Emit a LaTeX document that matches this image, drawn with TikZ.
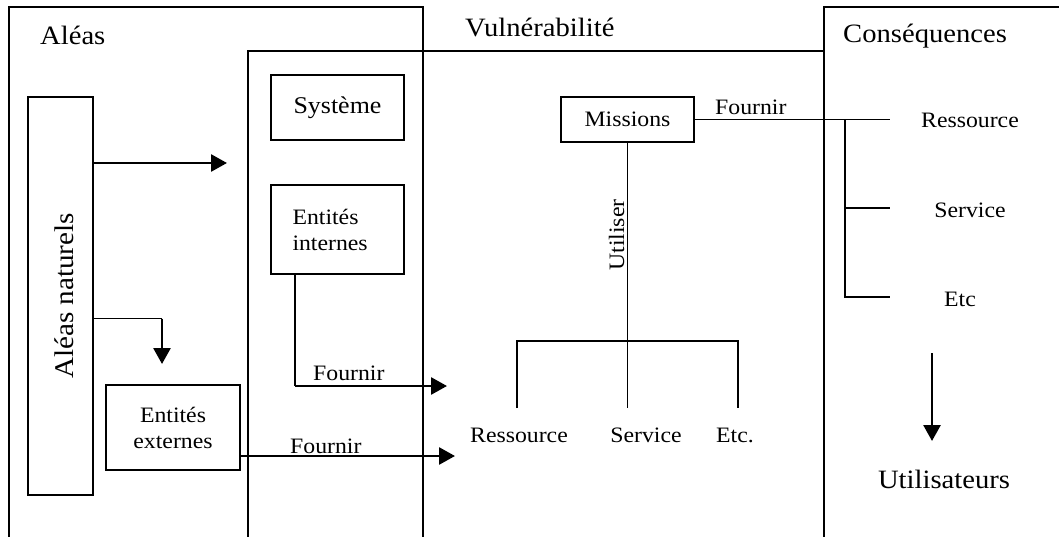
\documentclass[tikz,border=0pt]{standalone}
\usepackage{fontspec}
\setmainfont{Liberation Serif}[FakeStretch=1.08]
\usetikzlibrary{arrows.meta}
\begin{document}
\begin{tikzpicture}[x=1pt,y=-1pt,
  frame/.style={line width=1.4pt},
  box/.style={draw,line width=1.4pt,inner sep=0pt},
  ln/.style={line width=1.3pt},
  heavy/.style={line width=2.7pt},
  arr/.style={-{Triangle[length=16pt,width=17pt]}},
  big/.style={font=\fontsize{26.5}{30}\selectfont,inner sep=0pt},
  small/.style={font=\fontsize{22}{26}\selectfont,inner sep=0pt},
  mid/.style={font=\fontsize{24}{28}\selectfont,inner sep=0pt},
]
\useasboundingbox (0,0) rectangle (1059,537);
% frames
\draw[frame] (9,537) -- (9,7) -- (423,7) -- (423,537);
\draw[frame] (248,537) -- (248,51) -- (824,51);
\draw[frame] (824,537) -- (824,7) -- (1059,7);
% titles
\node[big,anchor=base west] (tal) at (40,45) {Aléas};
\node[big,anchor=base west] (tvu) at (465,37) {Vulnérabilité};
\node[big,anchor=base west] (tco) at (843,43) {Conséquences};
% boxes
\node[box,minimum width=65,minimum height=398] (an) at (60.5,296) {};
\node[font=\fontsize{27}{30}\selectfont,inner sep=0pt,rotate=90] (antxt) at (64,296) {Aléas naturels};
\node[box,minimum width=133,minimum height=65,mid] (sy) at (337.5,107.5) {Système};
\node[box,minimum width=133,minimum height=89] (ei) at (337.5,229.5) {};
\node[small,align=left,anchor=west] (eitxt) at ([xshift=22pt]ei.west) {Entités\\internes};
\node[box,minimum width=134,minimum height=85,small,align=center] (ee) at (173,427.5) {Entités\\externes};
\node[box,minimum width=133,minimum height=45,small] (mi) at (627.5,119.5) {Missions};
% arrow 1
\coordinate (t1) at (227,163);
\draw[heavy,arr] (an.east |- t1) -- (t1);
% arrow 2
\coordinate (k2) at (162,318.5);
\coordinate (t2) at (162,364);
\draw[ln] (an.east |- k2) -- (k2);
\draw[heavy,arr] (k2) -- (t2);
% arrow from entites externes
\coordinate (k3) at (357,456);
\coordinate (t3) at (455,456);
\draw[ln] (ee.east |- k3) -- (k3);
\draw[heavy,arr] (k3) -- (t3);
\node[small,anchor=base west] (f3) at (290,453) {Fournir};
% arrow from entites internes
\coordinate (k4) at (295,386);
\coordinate (t4) at (447,386);
\draw[ln] (ei.south -| k4) -- (k4);
\draw[heavy,arr] (k4) -- (t4);
\node[small,anchor=base west] (f4) at (313,380) {Fournir};
% missions -> consequences
\coordinate (bj) at (845,119.5);
\coordinate (b1) at (890,119.5);
\coordinate (b2) at (890,208);
\coordinate (b3) at (890,297);
\draw[ln] (mi.east) -- (b1);
\draw[ln] (bj) -- (bj |- b3) -- (b3);
\draw[ln] (bj |- b2) -- (b2);
\node[small,anchor=base west] (f1) at (715,115) {Fournir};
\node[small,anchor=base] (cr) at (970,128) {Ressource};
\node[small,anchor=base] (cs) at (970,218) {Service};
\node[small,anchor=base] (ce) at (960,306) {Etc};
% utilisateurs
\coordinate (u1) at (932,353);
\coordinate (u2) at (932,441);
\draw[heavy,arr] (u1) -- (u2);
\node[big,anchor=base] (ut) at (944,488) {Utilisateurs};
% utiliser tree
\coordinate (hl) at (517,341);
\coordinate (hr) at (738,341);
\coordinate (vm) at (627.5,408);
\draw[ln] (mi.south) -- (vm);
\draw[ln] (hl |- vm) -- (hl) -- (hr) -- (hr |- vm);
\node[small,rotate=90,anchor=south] (uti) at (624.5,235) {Utiliser};
\node[small,anchor=base] (br) at (519,442) {Ressource};
\node[small,anchor=base] (bs) at (646,442) {Service};
\node[small,anchor=base] (be) at (735,442) {Etc.};
\end{tikzpicture}
\end{document}
